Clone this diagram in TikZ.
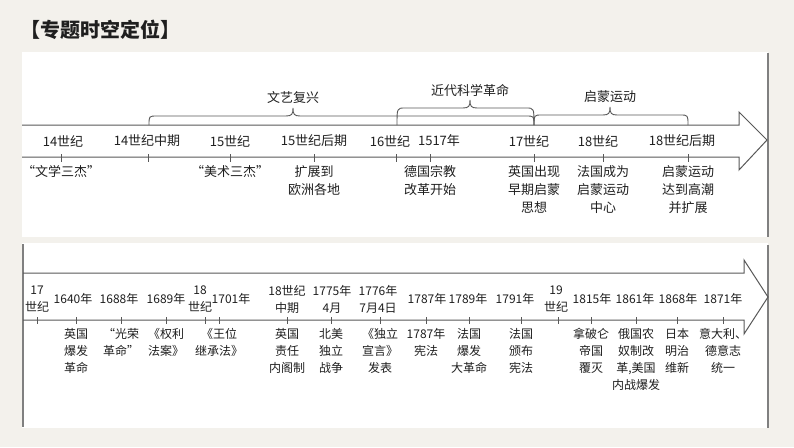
\documentclass[tikz,border=0pt]{standalone}
\usepackage{fontspec}
\usepackage{xcolor}
\usepackage{tikz}
\usetikzlibrary{calc}
\newfontfamily\cjk{Noto Sans CJK SC}
\definecolor{paper}{RGB}{243,241,236}
\definecolor{axisgray}{RGB}{88,88,88}

\begin{document}
\begin{tikzpicture}[x=1pt, y=-1pt,
        every node/.style={inner sep=1pt, text=black!88},
        axisline/.style={axisgray, line width=1pt},
        tickmark/.style={axisgray, line width=0.8pt},
        era/.style={axisgray, line width=0.9pt},
        upperfont/.style={font=\cjk\fontsize{13}{18}\selectfont},
        lowerfont/.style={font=\cjk\fontsize{12}{17}\selectfont},
        datelabel/.style={align=center},
        eventlabel/.style={align=center, anchor=north}]

        % page and the two white panels
        \fill[paper] (0,0) rectangle (794,447);
        \useasboundingbox (0,0) rectangle (794,447);
        \fill[white] (22,52) rectangle (768,237);
        \fill[white] (22,243) rectangle (768,428);
        \draw[gray, line width=1.5pt] (768,53) -- (768,237);
        \draw[gray, line width=1.5pt] (23,244) -- (23,427);
        \draw[gray, line width=1.5pt] (768,245) -- (768,428);

        % Title
        \node[font=\cjk\bfseries\fontsize{20}{24}\selectfont, anchor=west] (title) at (19,30) {【专题时空定位】};

        % Function to draw an era brace
        \newcommand{\drawEra}[6]{
            % #1 left end, #2 tip, #3 right end, #4 level, #5 text, #6 name
            \draw[era] (#1,125) .. controls (#1,#4) .. ({#1+8},#4) -- ({#2-7},#4)
                .. controls ({#2-1},#4) and (#2,{#4-2}) .. (#2,{#4-8})
                .. controls (#2,{#4-2}) and ({#2+1},#4) .. ({#2+7},#4) -- ({#3-8},#4)
                .. controls (#3,#4) .. (#3,125);
            \node[upperfont] (#6) at (#2,{#4-18}) {#5};
        }

        % upper time line
        \draw[axisline] (22,125) -- (739,125) -- (739,112) -- (767,140) -- (739,170) -- (739,157) -- (22,157);

        \drawEra{149}{293}{534}{116}{文艺复兴}{renaissance}
        \drawEra{397}{470}{534}{108}{近代科学革命}{science}
        \drawEra{534}{610}{688}{115}{启蒙运动}{enlightenment}

        \foreach \tx/\lx/\dateText/\eventText [count=\i] in {
                61/63/14世纪/{“文学三杰”},
                148/147/14世纪中期/{},
                230/230/15世纪/{“美术三杰”},
                314/314/15世纪后期/{扩展到\\欧洲各地},
                396/390/16世纪/{},
                430/439/1517年/{德国宗教\\改革开始},
                534/529/17世纪/{英国出现\\早期启蒙\\思想},
                603/598/18世纪/{法国成为\\启蒙运动\\中心},
                688/682/18世纪后期/{启蒙运动\\达到高潮\\并扩展}} {
            \draw[tickmark] (\tx,154) -- (\tx,162);
            \node[upperfont, datelabel] (upperDate\i) at (\lx,141) {\dateText};
            \node[upperfont, eventlabel] (upperEvent\i) at (\tx,164) {\eventText};
        }

        % lower time line
        \draw[axisline] (23,273) -- (744,273) -- (744,260) -- (768,297) -- (744,334) -- (744,320) -- (23,320);

        \foreach \tx/\lx/\dateText/\eventText [count=\i] in {
                37/37/{17\\世纪}/{},
                76/73/1640年/{英国\\爆发\\革命},
                121/119/1688年/{“光荣\\革命”},
                166/166/1689年/{《权利\\法案》},
                205/200/{18\\世纪}/{},
                219/231/1701年/{《王位\\继承法》},
                287/287/{18世纪\\中期}/{英国\\责任\\内阁制},
                331/332/{1775年\\4月}/{北美\\独立\\战争},
                380/378/{1776年\\7月4日}/{《独立\\宣言》\\发表},
                426/427/1787年/{1787年\\宪法},
                469/468/1789年/{法国\\爆发\\大革命},
                521/515/1791年/{法国\\颁布\\宪法},
                558/556/{19\\世纪}/{},
                591/592/1815年/{拿破仑\\帝国\\覆灭},
                636/635/1861年/{俄国农\\奴制改\\革,美国\\内战爆发},
                677/678/1868年/{日本\\明治\\维新},
                723/723/1871年/{意大利、\\德意志\\统一}} {
            \draw[tickmark] (\tx,317) -- (\tx,324);
            \node[lowerfont, datelabel] (lowerDate\i) at (\lx,299) {\dateText};
            \node[lowerfont, eventlabel] (lowerEvent\i) at (\tx,327) {\eventText};
        }

\end{tikzpicture}
\end{document}
